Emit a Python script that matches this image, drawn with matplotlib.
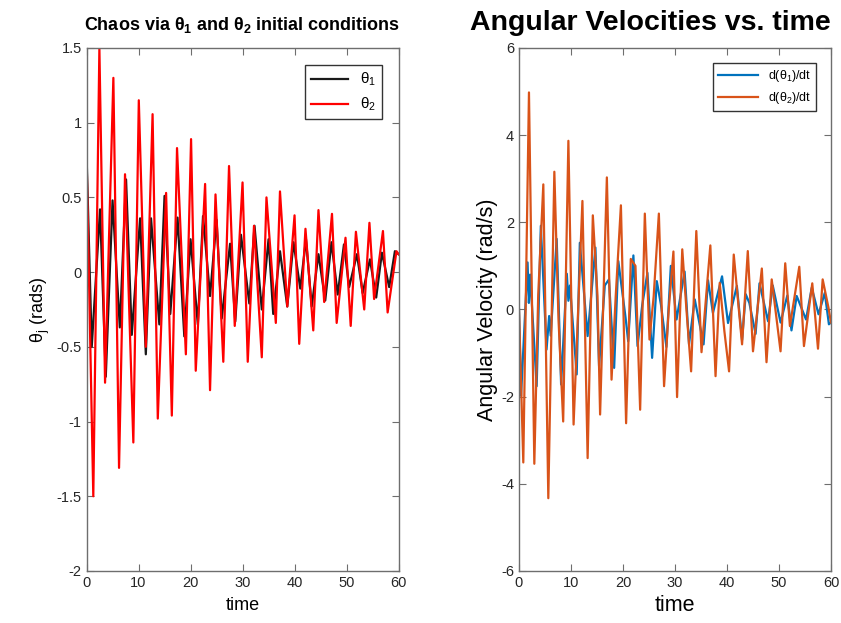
import matplotlib
matplotlib.use("Agg")
from matplotlib import pyplot as plt
from matplotlib.ticker import FuncFormatter, MultipleLocator

plt.rcParams['font.family'] = ['Liberation Sans', 'DejaVu Sans']
plt.rcParams['axes.unicode_minus'] = False
plt.rcParams['mathtext.fontset'] = 'custom'
plt.rcParams['mathtext.rm'] = 'Liberation Sans'
plt.rcParams['mathtext.it'] = 'Liberation Sans'
plt.rcParams['mathtext.bf'] = 'Liberation Sans:bold'

# angles (extrema)
t_th1 = [0, 1.0, 2.6, 3.7, 5.0, 6.4, 7.6, 8.7, 10.3, 11.4, 12.4, 14.0, 15.0, 16.1,
         17.5, 18.8, 20.0, 21.4, 22.4, 23.75, 25.0, 26.0, 27.6, 28.6, 29.7, 31.3,
         32.3, 33.7, 35.0, 35.9, 37.2, 38.6, 39.8, 41.1, 42.2, 43.3, 44.6, 45.9,
         47.1, 48.3, 49.5, 50.5, 52.0, 53.1, 54.5, 55.7, 56.8, 58.2, 59.3, 60]
th1 = [0.79, -0.5, 0.42, -0.70, 0.48, -0.37, 0.62, -0.42, 0.36, -0.55, 0.36, -0.35,
       0.51, -0.28, 0.365, -0.43, 0.22, -0.35, 0.375, -0.16, 0.35, -0.31, 0.19, -0.33,
       0.25, -0.21, 0.31, -0.25, 0.22, -0.28, 0.14, -0.23, 0.2, -0.11, 0.22, -0.23,
       0.12, -0.19, 0.2, -0.15, 0.185, -0.10, 0.12, -0.14, 0.085, -0.17, 0.13, -0.10,
       0.14, 0.12]

t_th2 = [0, 1.3, 2.47, 3.56, 5.16, 6.25, 7.4, 9.0, 10.05, 11.4, 12.7, 13.7, 15.3,
         16.4, 17.4, 19.1, 20.1, 21.0, 22.8, 23.75, 24.8, 26.3, 27.4, 28.5, 30.0,
         31.0, 32.2, 33.7, 34.6, 36.4, 37.2, 38.6, 40.0, 40.9, 42.1, 43.6, 44.6, 45.7,
         47.2, 48.1, 49.8, 50.8, 51.8, 53.4, 54.4, 55.3, 57.0, 57.9, 59.6, 60]
th2 = [0.78, -1.5, 1.5, -0.74, 1.3, -1.31, 0.655, -1.14, 1.15, -0.5, 1.057, -0.98,
       0.53, -0.96, 0.83, -0.55, 0.89, -0.66, 0.59, -0.79, 0.52, -0.6, 0.71, -0.36,
       0.6, -0.6, 0.31, -0.57, 0.5, -0.34, 0.54, -0.23, 0.38, -0.48, 0.29, -0.39,
       0.415, -0.2, 0.39, -0.34, 0.23, -0.36, 0.27, -0.25, 0.33, -0.18, 0.275, -0.27,
       0.14, 0.12]

# angular velocities
t_w1 = [0, 0.4, 1.65, 1.9, 2.15, 3.4, 4.2, 5.3, 5.8, 6.1, 7.25, 8.1, 9.2, 9.5, 9.8,
        11.1, 11.7, 13.2, 14.7, 15.4, 16.5, 17.3, 18.3, 19.1, 20.5, 21.0, 22.0, 22.8,
        23.7, 24.7, 25.6, 26.5, 27.3, 28.35, 29.2, 30.3, 31.85, 32.7, 33.8, 35.5,
        36.35, 37.3, 39.05, 40.2, 41.9, 42.9, 43.6, 44.3, 45.5, 46.25, 47.9, 48.8,
        50.3, 51.6, 52.4, 53.4, 55.2, 56.3, 57.6, 58.8, 59.6, 60]
w1 = [0, -1.98, 1.08, 0.15, 0.8, -1.76, 1.92, -0.92, -0.15, -0.6, 1.62, -1.72, 0.82,
      0.2, 0.55, -1.49, 1.53, -0.61, 1.42, -1.30, 0.55, 0.69, -1.34, 1.11, -0.19,
      -0.73, 1.24, -0.84, 0.1, 0.84, -1.11, 0.65, 0.11, -0.86, 1.0, -0.23, 0.87, -0.8,
      0.23, -0.8, 0.67, -0.08, 0.76, -0.31, 0.54, -0.7, 0.35, 0.15, -0.56, 0.6, -0.27,
      0.55, -0.3, 0.32, -0.48, 0.31, -0.23, 0.5, -0.11, 0.38, -0.34, -0.3]

t_w2 = [0, 0.83, 1.92, 2.95, 3.7, 4.68, 5.64, 6.8, 7.6, 8.5, 9.5, 10.5, 11.4, 12.2,
        13.2, 14.2, 15.1, 15.6, 16.9, 17.8, 18.6, 19.6, 20.6, 21.5, 22.4, 23.3, 24.2,
        25.1, 25.9, 26.9, 27.9, 28.8, 29.7, 30.4, 31.4, 32.2, 33.1, 34.1, 35.1, 36.8,
        37.8, 38.6, 39.5, 40.4, 41.3, 42.9, 44.0, 45.0, 46.7, 47.6, 48.6, 50.3, 51.2,
        52.1, 53.9, 54.8, 56.4, 57.5, 58.4, 59.5, 60]
w2 = [0, -3.51, 4.98, -3.54, 0.34, 2.87, -4.33, 3.16, -0.23, -2.57, 3.87, -2.64, 0.05,
      2.49, -3.41, 2.16, 0.31, -2.41, 3.03, -1.61, 0.3, 2.39, -2.61, 1.16, 1.0, -2.30,
      2.2, -0.69, 0.3, 2.2, -1.76, 0.0, 1.33, -2.01, 1.38, 0.0, -1.42, 1.80, -0.98,
      1.47, -1.53, 0.61, -0.5, -1.42, 1.26, -0.8, 1.34, -0.96, 0.94, -1.21, 0.69,
      -0.96, 1.06, -0.38, 0.98, -0.84, 0.6, -0.9, 0.69, 0.05, -0.3]

fmt = FuncFormatter(lambda v, p: '%g' % v)
axcol = '#6e6e6e'
lk = dict(lw=1.6, solid_joinstyle='round')

fig = plt.figure(figsize=(8.41, 6.23), dpi=100)
ax1 = fig.add_axes([0.1029, 0.0835, 0.371, 0.8395])
ax2 = fig.add_axes([0.6171, 0.0835, 0.371, 0.8395])

ax1.plot(t_th1, th1, color='#1a1a1a', label=r'$\theta_1$', **lk)
ax1.plot(t_th2, th2, color='#ff0000', label=r'$\theta_2$', **lk)
ax1.set_xlim(0, 60)
ax1.set_ylim(-2, 1.5)
ax1.yaxis.set_major_locator(MultipleLocator(0.5))
ax1.set_title(r'Chaos via $\mathbf{\theta_1}$ and $\mathbf{\theta_2}$ initial conditions',
              fontsize=13, fontweight='bold', pad=13)
ax1.set_ylabel(r'$\theta_j$ (rads)', fontsize=13, labelpad=3)
ax1.set_xlabel('time', fontsize=13, labelpad=5)
ax1.legend(loc='upper right', fontsize=11, fancybox=False, edgecolor='#333333',
           handlelength=2.4, borderaxespad=1.1, framealpha=1, labelspacing=0.5)

ax2.plot(t_w1, w1, color='#0072BD', label=r'd($\theta_1$)/dt', **lk)
ax2.plot(t_w2, w2, color='#D95319', label=r'd($\theta_2$)/dt', **lk)
ax2.set_xlim(0, 60)
ax2.set_ylim(-6, 6)
ax2.yaxis.set_major_locator(MultipleLocator(2))
ax2.set_title('Angular Velocities vs. time', fontsize=20.5, fontweight='bold',
              x=0.42, pad=13)
ax2.set_ylabel('Angular Velocity (rad/s)', fontsize=15.5, labelpad=2)
ax2.set_xlabel('time', fontsize=15.5, labelpad=4)
ax2.legend(loc='upper right', fontsize=9, fancybox=False, edgecolor='#333333',
           handlelength=3.2, borderaxespad=1.2, framealpha=1)

for ax in (ax1, ax2):
    ax.xaxis.set_major_locator(MultipleLocator(10))
    ax.xaxis.set_major_formatter(fmt)
    ax.yaxis.set_major_formatter(fmt)
    ax.tick_params(direction='in', top=True, right=True, length=5, width=0.8,
                   color=axcol, labelsize=10.5, labelcolor='#262626')
    for s in ax.spines.values():
        s.set_color(axcol)
        s.set_linewidth(1.0)

fig.savefig('out.png', dpi=100)
